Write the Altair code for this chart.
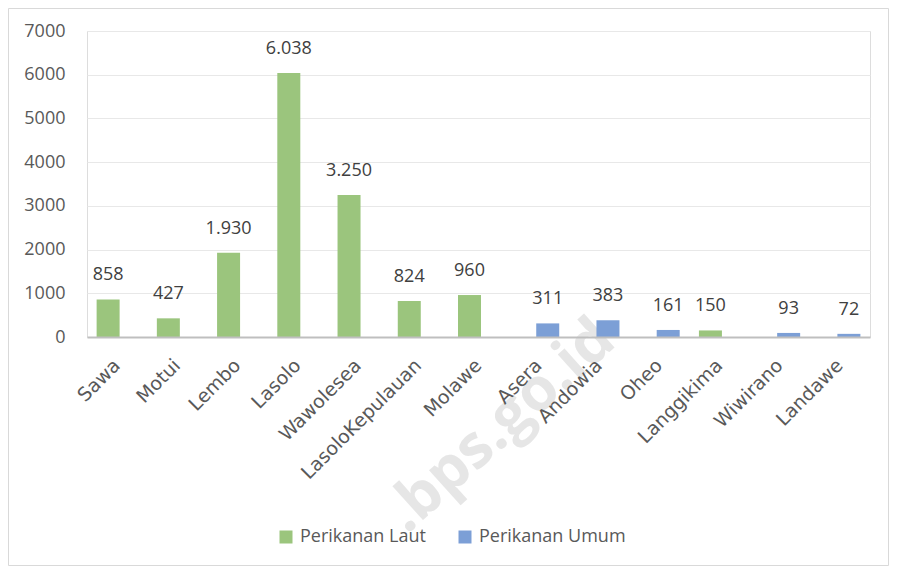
import altair as alt
import pandas as pd

categories = ["Sawa", "Motui", "Lembo", "Lasolo", "Wawolesea", "LasoloKepulauan",
              "Molawe", "Asera", "Andowia", "Oheo", "Langgikima", "Wiwirano", "Landawe"]
laut = [858, 427, 1930, 6038, 3250, 824, 960, 0, 0, 0, 150, 0, 0]
umum = [0, 0, 0, 0, 0, 0, 0, 311, 383, 161, 0, 93, 72]
series = ["Perikanan Laut", "Perikanan Umum"]
colors = ["#9BC57D", "#7C9FD6"]
y_ticks = [0, 1000, 2000, 3000, 4000, 5000, 6000, 7000]

rows = []
for c, a, b in zip(categories, laut, umum):
    rows.append({"kecamatan": c, "series": series[0], "value": a})
    rows.append({"kecamatan": c, "series": series[1], "value": b})
df = pd.DataFrame(rows)

base = alt.Chart(df).transform_filter("datum.value > 0").transform_calculate(
    label="replace(format(datum.value, ','), ',', '.')"
)

x_enc = alt.X("kecamatan:N", sort=categories, title=None,
              scale=alt.Scale(paddingInner=0, paddingOuter=0),
              axis=alt.Axis(labelAngle=-45, labelAlign="right", labelBaseline="middle",
                            labelFontSize=19, labelFont="DejaVu Sans", labelColor="#595959",
                            labelPadding=25, ticks=False, domainColor="#BFBFBF",
                            domainWidth=2, labelOverlap=False, zindex=1))
y_enc = alt.Y("value:Q", title=None, scale=alt.Scale(domain=[0, 7000], nice=False),
              axis=alt.Axis(values=y_ticks, format="d", grid=True, gridColor="#E8E8E8",
                            domain=False, ticks=False, labelPadding=22, labelFontSize=18,
                            labelFont="Open Sans", labelColor="#595959"))
color_enc = alt.Color("series:N", scale=alt.Scale(domain=series, range=colors),
                      legend=alt.Legend(orient="none", legendX=190, legendY=497,
                                        direction="horizontal", title=None,
                                        symbolType="square", symbolSize=169,
                                        symbolStrokeWidth=0, labelFontSize=18,
                                        labelFont="Open Sans", labelColor="#595959",
                                        columnPadding=30, labelOffset=5))

offsets = {series[0]: -9, series[1]: 9}
layers = []
for s in series:
    sub = base.transform_filter(alt.datum.series == s)
    layers.append(sub.mark_bar(width=23, xOffset=offsets[s]).encode(
        x=x_enc, y=y_enc, color=color_enc))
    layers.append(sub.mark_text(xOffset=offsets[s], dy=-19, baseline="alphabetic",
                                align="center", fontSize=18, font="Open Sans",
                                color="#404040").encode(
        x=alt.X("kecamatan:N", sort=categories),
        y=alt.Y("value:Q"), text="label:N"))

watermark = alt.Chart(pd.DataFrame({"t": [".bps.go.id"]})).mark_text(
    angle=318, align="right", baseline="middle", fontSize=60, font="Open Sans",
    fontWeight="bold", color="#E4E4E4", opacity=0.9
).encode(x=alt.value(519), y=alt.value(300), text="t:N")

border = alt.Chart(pd.DataFrame({"a": [0]})).mark_rect(
    fill=None, stroke="#D9D9D9", strokeWidth=1
).encode(x=alt.value(-78.5), x2=alt.value(801.5), y=alt.value(-22.5), y2=alt.value(534.5))

chart = alt.layer(watermark, *layers, border).properties(
    width=783, height=306,
    padding={"left": 79, "top": 23, "right": 19, "bottom": 229},
    autosize=alt.AutoSizeParams(type="none"),
).configure_view(stroke=None).configure(font="Open Sans")

chart.save("out.html", embed_options={"renderer": "svg", "actions": False})
